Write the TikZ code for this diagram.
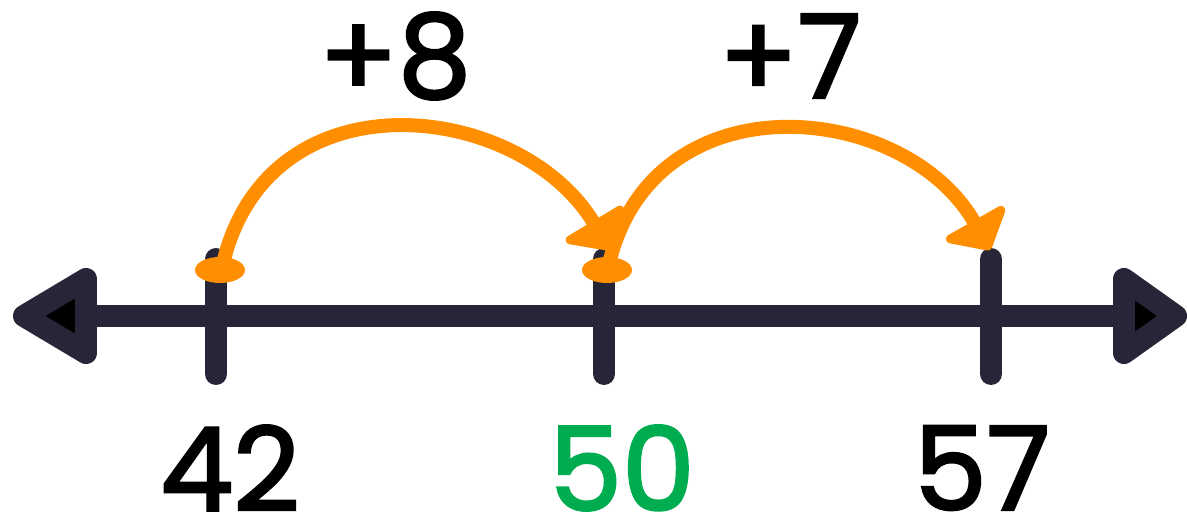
\documentclass[tikz,border=0pt]{standalone}
\usepackage{fontspec}
\setmainfont{Poppins}[BoldFont=Poppins, BoldFeatures={FakeBold=2.2}]
\usetikzlibrary{arrows.meta,positioning}
\definecolor{ink}{RGB}{38,38,56}
\definecolor{hop}{RGB}{255,142,0}
\definecolor{hit}{RGB}{0,172,80}

\begin{document}
\begin{tikzpicture}[
        x=0.02cm, y=-0.02cm,
        axis/.style={draw=ink, line width=0.44cm, line cap=round, line join=round},
        tick/.style={axis},
        jump/.style={draw=hop, line width=0.28cm, -{Triangle[round, length=0.7cm, width=1.6cm]}},
        dot/.style={fill=hop},
        num/.style={font=\fontsize{66}{66}\selectfont\bfseries, inner sep=0pt},
    ]
        \useasboundingbox (0,0) rectangle (1187,526);

        % Number line with end arrows
        \draw[axis] (86,316) -- (1124,316);
        \draw[axis, fill=black] (24,316) -- (86,279) -- (86,353) -- cycle;
        \draw[axis, fill=black] (1176,316) -- (1124,279) -- (1124,353) -- cycle;

        % Ticks
        \draw[tick] (216,259) -- (216,374);
        \draw[tick] (604,259) -- (604,374);
        \draw[tick] (991,259) -- (991,374);

        % Jump ends
        \coordinate (S42) at (222,268);
        \coordinate (E50) at (610,250);
        \coordinate (S50) at (608,268);
        \coordinate (E57) at (990,250);

        % Jumps
        \draw[jump] (S42) .. controls (265,70) and (520,100) .. (E50);
        \draw[jump] (S50) .. controls (650,75) and (905,100) .. (E57);
        \fill[dot] (220,270) ellipse (25 and 13);
        \fill[dot] (607,270) ellipse (25 and 13);

        % Labels
        \node[num] (L42) at (230,468) {42};
        \node[num, text=hit] (L50) at (622,468) {50};
        \node[num] (L57) at (982,468) {57};
        \node[num] (J8) at (395,56) {+8};
        \node[num] (J7) at (790,56) {+7};
    \end{tikzpicture}
\end{document}
